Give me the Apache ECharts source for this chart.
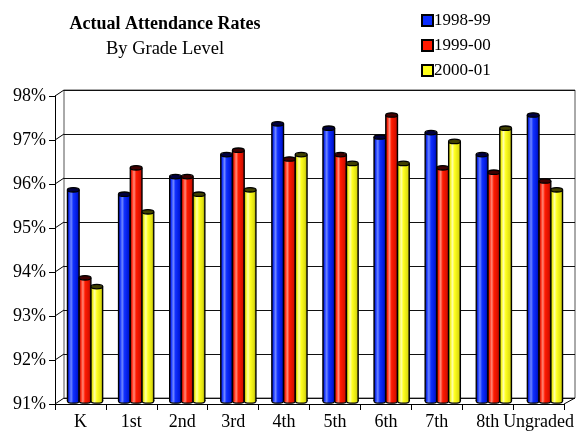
<!DOCTYPE html>
<html>
<head>
<meta charset="utf-8">
<script src="https://cdn.jsdelivr.net/npm/echarts@6/dist/echarts.min.js"></script>
<style>
html,body{margin:0;padding:0;background:#fff;}
#c{width:577px;height:432px;}
</style>
</head>
<body>
<div id="c"></div>
<script>
var categories = ['K','1st','2nd','3rd','4th','5th','6th','7th','8th','Ungraded'];
var seriesNames = ['1998-99','1999-00','2000-01'];
var s1998 = [95.8, 95.7, 96.1, 96.6, 97.3, 97.2, 97.0, 97.1, 96.6, 97.5];
var s1999 = [93.8, 96.3, 96.1, 96.7, 96.5, 96.6, 97.5, 96.3, 96.2, 96.0];
var s2000 = [93.6, 95.3, 95.7, 95.8, 96.6, 96.4, 96.4, 96.9, 97.2, 95.8];
var yMin = 91, yMax = 98, yStep = 1;

var FONT = '"Liberation Serif","DejaVu Serif",serif';
var palettes = [
  {main:'#0a2cff', stops:['#00007a','#1a3aff','#6f86ff','#1030ff','#0018d8','#000070'], top:'#000040'},
  {main:'#ff1a00', stops:['#7a0000','#ff2a10','#ff8a7a','#ff1a00','#d81000','#700000'], top:'#400000'},
  {main:'#ffff1a', stops:['#8a8a00','#f4f420','#ffffa8','#ffff20','#dede10','#707000'], top:'#404000'}
];
var allData = [s1998, s1999, s2000];

function makeRender(si) {
  var p = palettes[si];
  return function (params, api) {
    var cat = api.value(0), val = api.value(1);
    var top = api.coord([cat, val]);
    var base = api.coord([cat, yMin]);
    var band = api.size([1, 0])[0];
    var w = band * 0.23;
    var cx = top[0] + (si - 1) * w;
    var x0 = cx - w / 2;
    var ry = 2.2;
    var grad = new echarts.graphic.LinearGradient(0, 0, 1, 0, [
      {offset:0, color:p.stops[0]}, {offset:0.15, color:p.stops[1]},
      {offset:0.32, color:p.stops[2]}, {offset:0.5, color:p.stops[3]},
      {offset:0.85, color:p.stops[4]}, {offset:1, color:p.stops[5]}
    ]);
    return {
      type: 'group',
      children: [
        {type:'ellipse', shape:{cx:cx, cy:base[1], rx:w/2, ry:ry}, style:{fill:grad, stroke:'#000', lineWidth:1.3}},
        {type:'rect', shape:{x:x0, y:top[1], width:w, height:base[1]-top[1]}, style:{fill:grad}},
        {type:'line', shape:{x1:x0, y1:top[1], x2:x0, y2:base[1]}, style:{stroke:'#000', lineWidth:1.3}},
        {type:'line', shape:{x1:x0+w, y1:top[1], x2:x0+w, y2:base[1]}, style:{stroke:'#000', lineWidth:1.3}},
        {type:'ellipse', shape:{cx:cx, cy:top[1], rx:w/2, ry:ry}, style:{fill:p.top, stroke:'#000', lineWidth:1.3}}
      ]
    };
  };
}

var chart = echarts.init(document.getElementById('c'), null, {renderer:'canvas'});

var series = seriesNames.map(function (name, si) {
  return {
    name: name,
    type: 'custom',
    xAxisIndex: 2, yAxisIndex: 2,
    renderItem: makeRender(si),
    itemStyle: {color: palettes[si].main, borderColor:'#000', borderWidth:1.5},
    encode: {x: 0, y: 1},
    data: allData[si].map(function (v, i) { return [i, v]; }),
    z: 5
  };
});

chart.setOption({
  animation: false,
  backgroundColor: '#fff',
  title: [
    {text:'Actual Attendance Rates', left:160, top:10, textAlign:'center',
     textStyle:{fontFamily:FONT, fontSize:18, fontWeight:'bold', color:'#000'}},
    {text:'By Grade Level', left:160, top:35, textAlign:'center',
     textStyle:{fontFamily:FONT, fontSize:18.5, fontWeight:'normal', color:'#000'}}
  ],
  legend: {
    orient:'vertical', left:421, top:12, padding:0, itemWidth:11, itemHeight:11, itemGap:8,
    icon:'rect',
    textStyle:{fontFamily:FONT, fontSize:17, color:'#000', padding:[0,0,0,-4]},
    data: seriesNames
  },
  grid: [
    {left:64, right:2, top:90, bottom:34, show:true, borderColor:'#555', borderWidth:1},
    {left:55, right:11, top:96, bottom:28},
    {left:59.5, right:6.5, top:93, bottom:31}
  ],
  xAxis: [
    {gridIndex:0, type:'category', data:categories, show:false},
    {gridIndex:1, type:'category', data:categories, boundaryGap:true,
     axisLine:{show:true, lineStyle:{color:'#000', width:1}},
     axisTick:{show:true, alignWithLabel:false, length:6, lineStyle:{color:'#000'}},
     axisLabel:{fontFamily:FONT, fontSize:18, color:'#000', margin:9, interval:0}},
    {gridIndex:2, type:'category', data:categories, show:false}
  ],
  yAxis: [
    {gridIndex:0, type:'value', min:yMin, max:yMax, interval:yStep,
     axisLine:{show:false}, axisTick:{show:false}, axisLabel:{show:false},
     splitLine:{show:true, lineStyle:{color:'#111', width:1}}},
    {gridIndex:1, type:'value', min:yMin, max:yMax, interval:yStep,
     axisLine:{show:true, lineStyle:{color:'#000', width:1}},
     axisTick:{show:true, length:6, lineStyle:{color:'#000'}},
     splitLine:{show:false},
     axisLabel:{fontFamily:FONT, fontSize:18, color:'#000', margin:9,
       formatter:function(v){return v + '%';}}},
    {gridIndex:2, type:'value', min:yMin, max:yMax, interval:yStep, show:false,
     splitLine:{show:false}}
  ],
  series: series
});

// diagonal depth connectors between front axis and back wall
var graphics = [];
var rf = chart.getModel().getComponent('grid', 1).coordinateSystem.getRect();
var rb = chart.getModel().getComponent('grid', 0).coordinateSystem.getRect();
for (var v = yMin; v <= yMax; v += yStep) {
  var f = chart.convertToPixel({xAxisIndex:1, yAxisIndex:1}, [0, v]);
  var b = chart.convertToPixel({xAxisIndex:0, yAxisIndex:0}, [0, v]);
  graphics.push({type:'line', shape:{x1:rf.x, y1:f[1], x2:rb.x, y2:b[1]}, style:{stroke:'#000', lineWidth:1}, z:4});
}
graphics.push({type:'line', shape:{x1:rf.x+rf.width, y1:rf.y+rf.height, x2:rb.x+rb.width, y2:rb.y+rb.height}, style:{stroke:'#000', lineWidth:1}, z:4});
chart.setOption({graphic: graphics});
</script>
</body>
</html>
